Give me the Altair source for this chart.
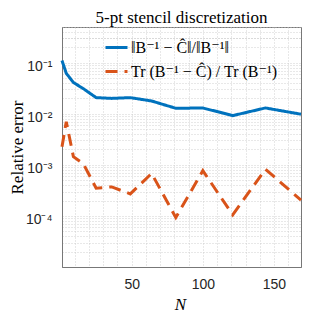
import altair as alt
import pandas as pd

N = [1, 4, 9, 16, 25, 36, 49, 64, 81, 100, 121, 144, 169]
norm_err = [0.11, 0.062, 0.041, 0.031, 0.0207, 0.020, 0.0207, 0.0178, 0.0128, 0.013, 0.0092, 0.013, 0.0098]
trace_err = [0.00226, 0.0070, 0.00145, 0.00105, 0.00035, 0.00037, 0.00027, 0.00068, 0.000093, 0.00077, 0.000105, 0.00082, 0.000204]

series_names = ["‖B⁻¹ − Ĉ‖/‖B⁻¹‖", "Tr (B⁻¹ − Ĉ) / Tr (B⁻¹)"]
series_colors = ["#0072BD", "#D95319"]

x_grid = [10, 20, 30, 40, 50, 60, 70, 80, 90, 100, 110, 120, 130, 140, 150, 160]
y_grid = [m * 10.0 ** k for k in range(-5, 0) for m in range(1, 10)] + [0.2, 0.3, 0.4]

rows = []
for n, a, b in zip(N, norm_err, trace_err):
    rows.append({"N": n, "err": a, "series": series_names[0]})
    rows.append({"N": n, "err": b, "series": series_names[1]})
df = pd.DataFrame(rows)

SERIF = "'Liberation Serif', 'DejaVu Serif', serif"

y_label_expr = (
    "abs(log(datum.value)/LN10 - round(log(datum.value)/LN10)) < 0.001 && datum.value > 0.00002 ? "
    "'10' + ['⁰','⁻¹','⁻²','⁻³','⁻⁴','⁻⁵'][-round(log(datum.value)/LN10)] : ''"
)

legend_cfg = dict(
    title=None,
    orient="none",
    legendX=42,
    legendY=8,
    symbolType="stroke",
    symbolStrokeWidth=3,
    symbolSize=484,
    labelFont=SERIF,
    labelFontSize=16,
    labelColor="#000",
    labelOffset=2,
    rowPadding=3,
    padding=0,
)

chart = (
    alt.Chart(df)
    .mark_line(strokeWidth=3)
    .encode(
        x=alt.X(
            "N:Q",
            scale=alt.Scale(domain=[1, 169], nice=False, zero=False),
            axis=alt.Axis(
                values=x_grid,
                labelExpr="datum.value % 50 == 0 ? datum.label : ''",
                title="N",
                titleFont=SERIF,
                titleFontStyle="italic",
                titleFontWeight="normal",
                titleFontSize=17,
                titleX=118,
                titleY=37,
                titleBaseline="middle",
                titleAlign="center",
                labelPadding=10,
            ),
        ),
        y=alt.Y(
            "err:Q",
            scale=alt.Scale(type="log", domain=[1e-5, 0.5], nice=False),
            axis=alt.Axis(
                values=y_grid,
                labelExpr=y_label_expr,
                title="Relative error",
                titleFont=SERIF,
                titleFontWeight="normal",
                titleFontSize=17,
                titleX=-45,
                titleY=120,
                titleAngle=-90,
                titleBaseline="middle",
                titleAlign="center",
                labelPadding=10,
                labelOffset=4,
            ),
        ),
        color=alt.Color(
            "series:N",
            scale=alt.Scale(domain=series_names, range=series_colors),
            legend=alt.Legend(**legend_cfg),
        ),
        strokeDash=alt.StrokeDash(
            "series:N",
            scale=alt.Scale(domain=series_names, range=[[1, 0], [12, 7]]),
            legend=alt.Legend(**legend_cfg),
        ),
    )
    .properties(
        width=239,
        height=240,
        title=alt.TitleParams(
            "5-pt stencil discretization",
            font=SERIF,
            fontSize=17,
            fontWeight="normal",
            color="#000",
            offset=0,
        ),
        padding={"left": 54, "top": 19, "right": 23, "bottom": 45},
        autosize=alt.AutoSizeParams(type="none"),
    )
    .configure_axis(
        grid=True,
        gridDash=[1, 2],
        gridColor="#c4c4c4",
        gridWidth=0.8,
        ticks=False,
        domainColor="#777",
        labelFont="Liberation Sans",
        labelFontSize=14,
        labelColor="#262626",
    )
    .configure_legend(labelFont=SERIF, labelFontSize=16, labelColor="#000")
    .configure_view(stroke="#777", strokeWidth=1)
)

chart.save("out.html", embed_options={"renderer": "svg", "actions": False})
